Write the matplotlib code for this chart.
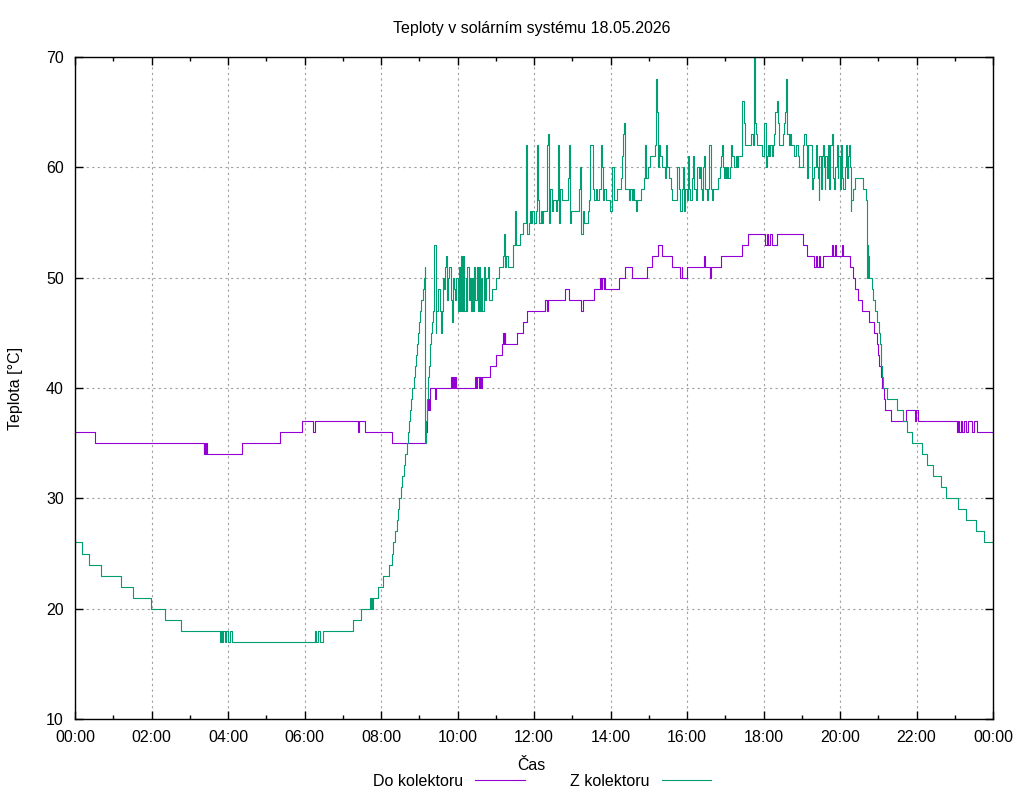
import matplotlib
matplotlib.use("Agg")
import matplotlib.pyplot as plt
from matplotlib.ticker import MultipleLocator, FuncFormatter

plt.rcParams['font.family'] = ['Liberation Sans', 'DejaVu Sans']
plt.rcParams['font.size'] = 11.5

title = "Teploty v solárním systému 18.05.2026"
series_names = ["Do kolektoru", "Z kolektoru"]
colors = ["#9400d3", "#009e73"]

# Do kolektoru (hours, deg C) - change points, drawn as steps
do_time = [0.00, 0.53, 3.36, 3.38, 3.40, 3.42, 3.44, 4.36, 5.36, 5.93, 6.23, 6.27, 7.39, 7.43, 7.58,
           8.28, 9.17, 9.19, 9.21, 9.23, 9.25, 9.27, 9.28, 9.41, 9.45, 9.83, 9.86, 9.88, 9.91, 9.93,
           9.95, 10.45, 10.48, 10.52, 10.55, 10.58, 10.61, 10.64, 10.85, 11.00, 11.16, 11.18, 11.21,
           11.23, 11.25, 11.56, 11.71, 11.83, 12.30, 12.33, 12.36, 12.81, 12.92, 13.24, 13.27, 13.57,
           13.72, 13.75, 13.78, 13.82, 13.84, 13.86, 14.23, 14.38, 14.55, 14.96, 15.08, 15.25, 15.34,
           15.62, 15.83, 15.86, 15.88, 16.01, 16.44, 16.46, 16.60, 16.62, 16.89, 17.45, 17.60, 18.04,
           18.08, 18.12, 18.18, 18.22, 18.34, 19.02, 19.15, 19.33, 19.36, 19.40, 19.44, 19.48, 19.56,
           19.78, 19.82, 19.86, 19.90, 19.96, 20.06, 20.08, 20.26, 20.33, 20.40, 20.48, 20.58, 20.75,
           20.90, 20.96, 21.00, 21.03, 21.06, 21.10, 21.14, 21.18, 21.33, 21.73, 21.97, 21.99, 22.05,
           23.05, 23.08, 23.12, 23.16, 23.20, 23.24, 23.30, 23.34, 23.45, 23.50, 23.57, 24.00]
do_temp = [36, 35, 34, 35, 34, 35, 34, 35, 36, 37, 36, 37, 36, 37, 36,
           35, 36, 37, 38, 39, 38, 39, 40, 39, 40, 41, 40, 41, 40, 41,
           40, 41, 40, 41, 40, 41, 40, 41, 42, 43, 44, 45, 44,
           45, 44, 45, 46, 47, 48, 47, 48, 49, 48, 47, 48, 49,
           50, 49, 50, 49, 50, 49, 50, 51, 50, 51, 52, 53, 52,
           51, 50, 51, 50, 51, 52, 51, 50, 51, 52, 53, 54, 53,
           54, 53, 54, 53, 54, 53, 52, 51, 52, 51, 52, 51, 52,
           53, 52, 53, 52, 52, 53, 52, 51, 50, 49, 48, 47, 46,
           45, 44, 43, 42, 41, 40, 39, 38, 37, 38, 37, 38, 37,
           36, 37, 36, 37, 36, 37, 36, 37, 36, 37, 36, 36]

# Z kolektoru (hours, deg C)
z_time = [0.00, 0.17, 0.37, 0.69, 1.21, 1.51, 1.98, 2.36, 2.77, 3.79, 3.82, 3.85, 3.88, 3.92, 3.96,
          4.00, 4.04, 4.10, 6.27, 6.30, 6.35, 6.40, 6.48, 7.26, 7.49, 7.71, 7.73, 7.75, 7.77, 7.80,
          7.93, 8.06, 8.22, 8.28, 8.32, 8.37, 8.41, 8.44, 8.47, 8.53, 8.56, 8.60, 8.63, 8.67, 8.70,
          8.73, 8.76, 8.79, 8.82, 8.85, 8.88, 8.91, 8.95, 8.98, 9.00, 9.02, 9.05, 9.09, 9.12, 9.14,
          9.16, 9.18, 9.20, 9.22, 9.25, 9.27, 9.28, 9.30, 9.34, 9.37, 9.38, 9.39, 9.43, 9.45, 9.50,
          9.54, 9.57, 9.59, 9.61, 9.63, 9.65, 9.67, 9.70, 9.73, 9.76, 9.79, 9.82, 9.85, 9.87, 9.89,
          9.92, 9.94, 9.96, 10.00, 10.03, 10.07, 10.09, 10.13, 10.15, 10.18, 10.21, 10.24, 10.26,
          10.30, 10.33, 10.35, 10.39, 10.41, 10.44, 10.47, 10.50, 10.53, 10.56, 10.59, 10.61, 10.65,
          10.68, 10.72, 10.75, 10.79, 10.82, 10.89, 11.01, 11.08, 11.18, 11.21, 11.25, 11.28, 11.33,
          11.46, 11.50, 11.53, 11.63, 11.72, 11.78, 11.79, 11.81, 11.83, 11.87, 11.89, 11.92, 11.95,
          12.00, 12.04, 12.07, 12.10, 12.13, 12.18, 12.22, 12.24, 12.35, 12.37, 12.39, 12.42, 12.46,
          12.49, 12.57, 12.61, 12.64, 12.66, 12.69, 12.73, 12.89, 12.92, 12.95, 12.98, 13.18, 13.21,
          13.24, 13.27, 13.31, 13.40, 13.44, 13.47, 13.53, 13.57, 13.62, 13.66, 13.71, 13.75, 13.79,
          13.81, 13.84, 13.87, 13.99, 14.04, 14.09, 14.16, 14.27, 14.30, 14.32, 14.34, 14.37, 14.48,
          14.51, 14.55, 14.59, 14.62, 14.67, 14.70, 14.79, 14.88, 14.90, 14.93, 14.97, 15.03, 15.16,
          15.19, 15.21, 15.23, 15.26, 15.30, 15.34, 15.43, 15.46, 15.49, 15.53, 15.57, 15.62, 15.75,
          15.78, 15.82, 15.87, 15.89, 15.92, 15.96, 15.99, 16.02, 16.05, 16.08, 16.12, 16.15, 16.19,
          16.23, 16.27, 16.31, 16.34, 16.37, 16.40, 16.43, 16.45, 16.48, 16.51, 16.56, 16.58, 16.63,
          16.66, 16.69, 16.82, 16.86, 16.89, 16.91, 16.93, 16.97, 16.99, 17.02, 17.05, 17.08, 17.12,
          17.15, 17.18, 17.24, 17.27, 17.31, 17.34, 17.43, 17.45, 17.48, 17.51, 17.67, 17.73, 17.76,
          17.78, 17.80, 17.84, 17.96, 18.00, 18.02, 18.06, 18.08, 18.11, 18.14, 18.17, 18.21, 18.24,
          18.27, 18.31, 18.35, 18.37, 18.41, 18.50, 18.54, 18.57, 18.60, 18.62, 18.66, 18.69, 18.72,
          18.81, 18.84, 18.89, 18.93, 19.04, 19.07, 19.10, 19.13, 19.16, 19.26, 19.30, 19.33, 19.36,
          19.39, 19.42, 19.44, 19.46, 19.50, 19.52, 19.55, 19.57, 19.60, 19.62, 19.65, 19.68, 19.71,
          19.74, 19.79, 19.83, 19.85, 19.88, 19.91, 19.94, 19.96, 20.00, 20.03, 20.05, 20.09, 20.12,
          20.15, 20.17, 20.20, 20.23, 20.25, 20.28, 20.30, 20.33, 20.39, 20.59, 20.68, 20.70, 20.71,
          20.72, 20.73, 20.74, 20.76, 20.83, 20.87, 20.92, 20.98, 21.02, 21.04, 21.06, 21.08, 21.10,
          21.13, 21.24, 21.50, 21.64, 21.76, 21.87, 22.15, 22.28, 22.44, 22.63, 22.77, 23.09, 23.29,
          23.56, 23.77, 24.00]
z_temp = [26, 25, 24, 23, 22, 21, 20, 19, 18, 17, 18, 17, 18, 17, 18,
          17, 18, 17, 18, 17, 18, 17, 18, 19, 20, 21, 20, 21, 20, 21,
          22, 23, 24, 25, 26, 27, 28, 29, 30, 31, 32, 33, 34, 35, 36,
          37, 38, 39, 40, 41, 42, 43, 44, 45, 46, 47, 48, 49, 50, 51,
          35, 37, 39, 41, 42, 43, 44, 45, 46, 47, 50, 53, 45, 47, 49,
          47, 45, 47, 48, 50, 49, 51, 52, 48, 50, 51, 48, 46, 47, 50,
          49, 48, 50, 47, 51, 47, 52, 47, 52, 47, 50, 47, 51,
          48, 50, 47, 50, 47, 51, 48, 51, 47, 51, 47, 50, 47,
          51, 48, 50, 51, 48, 49, 50, 51, 52, 54, 51, 52, 51,
          53, 56, 53, 54, 55, 61, 62, 58, 54, 55, 56, 55, 56,
          55, 56, 62, 57, 55, 56, 55, 56, 62, 63, 55, 58, 56,
          57, 56, 57, 62, 55, 58, 57, 59, 62, 55, 56, 58, 60,
          54, 56, 55, 56, 57, 62, 58, 57, 58, 57, 58, 62, 60,
          57, 58, 57, 56, 60, 57, 58, 59, 61, 63, 64, 58, 57,
          58, 57, 58, 57, 56, 57, 58, 59, 62, 59, 60, 61, 62,
          68, 65, 60, 62, 61, 60, 59, 62, 60, 59, 58, 57, 60,
          58, 56, 58, 60, 56, 58, 57, 61, 58, 57, 59, 61, 58,
          57, 60, 59, 60, 58, 57, 60, 61, 58, 57, 58, 62, 58,
          57, 58, 59, 60, 61, 62, 60, 59, 60, 59, 60, 59, 60,
          62, 61, 60, 61, 60, 61, 62, 66, 64, 62, 63, 62, 70,
          64, 63, 62, 61, 62, 64, 60, 61, 62, 61, 62, 61, 62,
          63, 65, 66, 64, 62, 63, 64, 65, 68, 63, 62, 63, 62,
          61, 62, 61, 60, 62, 63, 62, 59, 62, 58, 59, 60, 62,
          60, 59, 57, 61, 58, 61, 62, 60, 58, 61, 59, 62, 58,
          62, 63, 59, 58, 60, 62, 59, 61, 58, 62, 59, 58, 60,
          62, 59, 61, 62, 60, 56, 57, 58, 59, 58, 57, 52, 50,
          53, 50, 52, 50, 49, 48, 47, 46, 45, 44, 43, 42, 41,
          40, 39, 38, 37, 36, 35, 34, 33, 32, 31, 30, 29, 28,
          27, 26, 26]

fig = plt.figure(figsize=(10.24, 8.0), dpi=100)
ax = fig.add_axes([75 / 1024, 81 / 800, 918 / 1024, 662 / 800])

h1, = ax.plot(do_time, do_temp, drawstyle='steps-post', color=colors[0], lw=0.8, label=series_names[0])
h2, = ax.plot(z_time, z_temp, drawstyle='steps-post', color=colors[1], lw=0.8, label=series_names[1])

ax.set_xlim(0, 24)
ax.set_ylim(10, 70)
ax.xaxis.set_major_locator(MultipleLocator(2))
ax.xaxis.set_minor_locator(MultipleLocator(1))
ax.yaxis.set_major_locator(MultipleLocator(10))
ax.xaxis.set_major_formatter(FuncFormatter(lambda v, p: "%02d:00" % (int(round(v)) % 24)))

ax.tick_params(which='both', direction='in', top=True, right=True, width=1, colors='black')
ax.tick_params(which='major', length=6, pad=8, labelsize=11.5)
ax.tick_params(which='minor', length=3)
for s in ax.spines.values():
    s.set_linewidth(1)
    s.set_color('black')

ax.grid(True, which='major', color='#a0a0a0', linestyle=(0, (2, 3)), linewidth=0.8)
ax.set_axisbelow(True)

fig.text(532 / 1024, 1 - 29 / 800, title, ha='center', va='center', fontsize=11.5)
fig.text(16 / 1024, 1 - 388 / 800, "Teplota [°C]", rotation=90, ha='center', va='center', fontsize=11.5)
fig.text(531 / 1024, 1 - 765 / 800, "Čas", ha='center', va='center', fontsize=11.5)

ax.legend(handles=[h1, h2], loc='center', bbox_to_anchor=(542 / 1024, 1 - 781 / 800),
          bbox_transform=fig.transFigure, ncol=2, frameon=False, markerfirst=False,
          handlelength=3.1, handletextpad=0.8, columnspacing=2.8, fontsize=11.5,
          borderpad=0, borderaxespad=0)

fig.savefig("out.png", dpi=100)
